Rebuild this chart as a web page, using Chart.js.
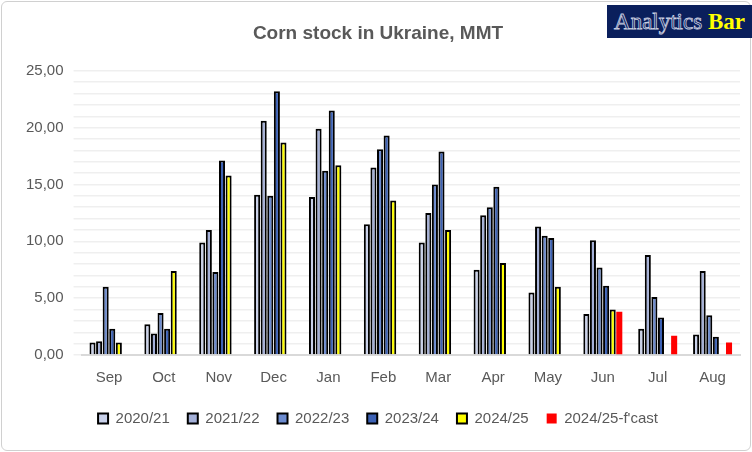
<!DOCTYPE html><html><head><script src="https://cdn.jsdelivr.net/npm/chart.js@4"></script>
<style>body{margin:0;background:#fff}#w{position:relative;width:750px;height:450px;border:1px solid #d0d0d0;border-radius:6px;box-sizing:border-box;margin:1px}
#logo{position:absolute;left:605px;top:3px;width:145px;height:33px;background:#0a1f5c;font-family:"Liberation Serif",serif;font-size:23px;line-height:33px;text-align:center;color:#0a1f5c;-webkit-text-stroke:0.8px #c8cde0}
#logo b{color:#ffff00;-webkit-text-stroke:0}</style></head><body>
<div id="w"><canvas id="c" width="748" height="448"></canvas><div id="logo">Analytics <b>Bar</b></div></div>
<script>
const categories=["Sep","Oct","Nov","Dec","Jan","Feb","Mar","Apr","May","Jun","Jul","Aug"];
const seriesNames=["2020/21","2021/22","2022/23","2023/24","2024/25","2024/25-f'cast"];
const s2020=[1.1,2.7,9.9,14.1,13.9,11.5,9.9,7.5,5.5,3.6,2.3,1.8];
const s2021=[1.2,1.9,11.0,20.6,19.9,16.5,12.5,12.3,11.3,10.1,8.8,7.4];
const s2022=[6.0,3.7,7.3,14.0,16.2,18.1,15.0,13.0,10.5,7.7,5.1,3.5];
const s2023=[2.3,2.3,17.1,23.2,21.5,19.3,17.9,14.8,10.3,6.1,3.3,1.6];
const s2024=[1.1,7.4,15.8,18.7,16.7,13.6,11.0,8.1,6.0,4.0,null,null];
const sFc=[null,null,null,null,null,null,null,null,null,3.8,1.7,1.1];
const colors=["#c9d1ea","#a4b0d8","#6c8bcf","#3d62b5","#ffff00","#ff0000"];
const all=[s2020,s2021,s2022,s2023,s2024,sFc];
new Chart(document.getElementById('c'),{type:'bar',
data:{labels:categories,datasets:all.map((d,i)=>({label:seriesNames[i],data:d,backgroundColor:colors[i],borderColor:i==5?'#ff0000':'#000',borderWidth:i==5?0:2,categoryPercentage:0.72,barPercentage:0.92}))},
options:{responsive:false,animation:false,layout:{padding:{left:14,right:10,top:0,bottom:14}},
plugins:{title:{display:true,text:'Corn stock in Ukraine, MMT',color:'#595959',font:{family:'Liberation Sans',size:19,weight:'bold'},padding:{top:20,bottom:26}},
legend:{position:'bottom',labels:{color:'#595959',font:{family:'Liberation Sans',size:15},boxWidth:10,boxHeight:10,padding:18}}},
scales:{x:{grid:{display:false},border:{color:'#d9d9d9',width:2},ticks:{color:'#595959',font:{family:'Liberation Sans',size:15},padding:6}},
y:{min:0,max:25,border:{display:false},grid:{color:'#efefef',lineWidth:1.5},ticks:{stepSize:1,autoSkip:false,color:'#595959',font:{family:'Liberation Sans',size:15},padding:10,callback:v=>v%5===0?v.toFixed(2).replace('.',','):''}}}}});
</script></body></html>
